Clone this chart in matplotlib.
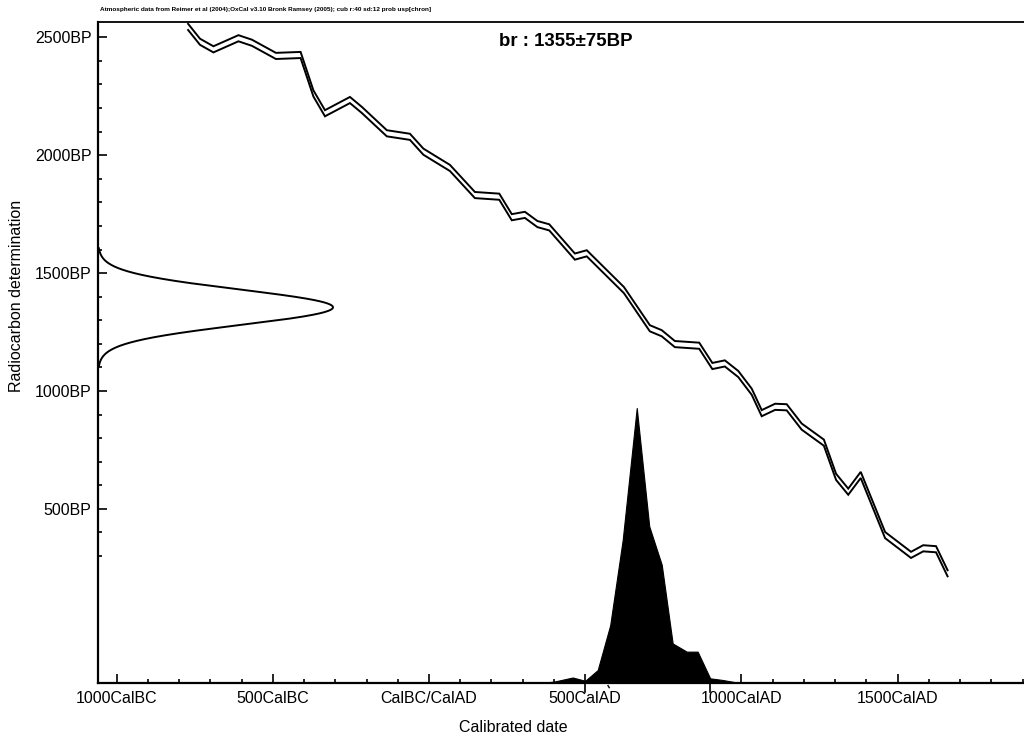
import numpy as np
import matplotlib
matplotlib.use("Agg")
import matplotlib.pyplot as plt
from matplotlib.ticker import FixedLocator, FixedFormatter
import matplotlib.transforms as mtransforms

plt.rcParams['font.family'] = ['Liberation Sans', 'DejaVu Sans']

# Calibration curve (calendar year, negative = BC; radiocarbon age BP)
curve_year = [-771, -733, -690, -610, -567, -490, -411, -370, -333, -253, -215,
              -135, -61, -18, 25, 67, 147, 225, 265, 307, 347, 385, 467, 505,
              624, 707, 745, 787, 865, 907, 947, 990, 1033, 1065, 1108, 1145,
              1193, 1264, 1303, 1342, 1382, 1460, 1543, 1582, 1623, 1660]
curve_bp = [2544, 2481, 2449, 2496, 2477, 2421, 2425, 2262, 2178, 2234, 2192,
            2093, 2078, 2015, 1980, 1946, 1831, 1824, 1737, 1747, 1708, 1694,
            1570, 1584, 1428, 1266, 1245, 1199, 1192, 1106, 1117, 1072, 997,
            906, 933, 931, 849, 781, 636, 573, 644, 389, 305, 333, 329, 227]
curve_sigma = 13

# Radiocarbon measurement
sample_name = "br"
sample_bp = 1355
sample_err = 75

# Calibrated probability distribution (relative, peak = 1)
prob_year = [355, 400, 460, 500, 540, 580, 620, 665, 705, 745, 780, 825, 860,
             900, 940, 995]
prob_val = [0.0, 0.005, 0.02, 0.008, 0.047, 0.21, 0.52, 1.0, 0.57, 0.43,
            0.144, 0.114, 0.114, 0.017, 0.011, 0.0]

# Range marks below axis
range_marks = [500, 900]

xticks_major = [-1000, -500, 0, 500, 1000, 1500]
xtick_labels = ["1000CalBC", "500CalBC", "CalBC/CalAD", "500CalAD", "1000CalAD", "1500CalAD"]
xticks_minor = list(range(-1000, 2000, 100))
yticks_major = [500, 1000, 1500, 2000, 2500]
ytick_labels = ["500BP", "1000BP", "1500BP", "2000BP", "2500BP"]
yticks_minor = list(range(300, 2500, 100))

header = ("Atmospheric data from Reimer et al (2004);OxCal v3.10 Bronk Ramsey (2005); "
          "cub r:40 sd:12 prob usp[chron]")

W, H = 1024, 744
fig = plt.figure(figsize=(W / 100, H / 100), dpi=100)
ax_l, ax_b, ax_r, ax_t = 98 / W, 1 - 683 / H, 1.0, 1 - 22 / H
ax = fig.add_axes([ax_l, ax_b, ax_r - ax_l, ax_t - ax_b])
ax.set_xlim(-1059.5, 1904.6)
ax.set_ylim(-238.3, 2564.9)

# calibration curve band (two lines)
cy = np.array(curve_year, dtype=float)
cb = np.array(curve_bp, dtype=float)
ax.plot(cy, cb + curve_sigma, color='black', lw=1.4, solid_joinstyle='miter')
ax.plot(cy, cb - curve_sigma, color='black', lw=1.4, solid_joinstyle='miter')

ax.spines['right'].set_visible(False)
ax.spines['left'].set_linewidth(1.6)
ax.spines['bottom'].set_linewidth(1.6)
ax.spines['top'].set_linewidth(1.3)

ax.xaxis.set_major_locator(FixedLocator(xticks_major))
ax.xaxis.set_major_formatter(FixedFormatter(xtick_labels))
ax.xaxis.set_minor_locator(FixedLocator(xticks_minor))
ax.yaxis.set_major_locator(FixedLocator(yticks_major))
ax.yaxis.set_major_formatter(FixedFormatter(ytick_labels))
ax.yaxis.set_minor_locator(FixedLocator(yticks_minor))
ax.tick_params(which='both', direction='in', top=False, right=False, width=1.2, color='black')
ax.tick_params(which='major', length=6.5, labelsize=11.5)
ax.tick_params(which='minor', length=3)
ax.tick_params(axis='x', which='major', pad=6)
ax.tick_params(axis='y', which='major', pad=4.5)

# probability histogram on its own vertical scale
ax2 = ax.twinx()
ax2.set_ylim(0, 661 / 275)
ax2.fill_between(prob_year, 0, prob_val, color='black', lw=0.8, edgecolor='black')
ax2.set_axis_off()

# measurement distribution on its own horizontal scale
ax3 = ax.twiny()
ax3.set_xlim(0, 926 / 235)
ax3.set_ylim(ax.get_ylim())
gy = np.linspace(sample_bp - 250, sample_bp + 250, 400)
gx = np.exp(-0.5 * ((gy - sample_bp) / sample_err) ** 2)
ax3.plot(gx, gy, color='black', lw=1.4)
ax3.set_axis_off()

# range marks below the axis
trans = mtransforms.blended_transform_factory(ax.transData, ax.transAxes)
for rm in range_marks:
    ax.plot([rm, rm], [0, -0.013], color='black', lw=1.2, transform=trans, clip_on=False)
ax.plot([573, 577], [-0.004, -0.007], color='black', lw=1.0, transform=trans, clip_on=False)

fig.text(566 / W, 1 - 42 / H, f"{sample_name} : {sample_bp}\u00b1{sample_err}BP",
         ha='center', va='center', fontsize=13.4, fontweight='bold')
fig.text(100 / W, 1 - 10 / H, header, ha='left', va='center', fontsize=4.6, fontweight='bold')
fig.text(17 / W, 1 - 296 / H, "Radiocarbon determination", rotation=90,
         ha='center', va='center', fontsize=11.5)
fig.text(513 / W, 1 - 728 / H, "Calibrated date", ha='center', va='center', fontsize=11.5)

fig.savefig("out.png", dpi=100)
